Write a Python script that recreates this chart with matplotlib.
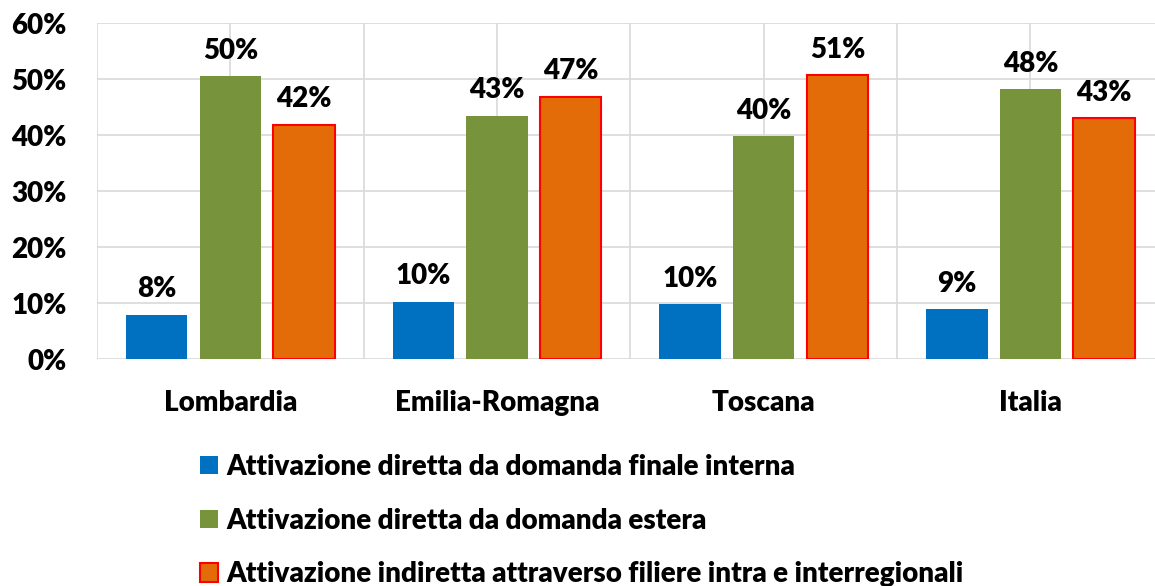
import matplotlib.pyplot as plt
import numpy as np

plt.rcParams["font.family"] = ["Lato", "DejaVu Sans"]
plt.rcParams["font.weight"] = "heavy"

regions = ["Lombardia", "Emilia-Romagna", "Toscana", "Italia"]
interna = [7.9, 10.2, 9.8, 8.9]
estera = [50.5, 43.4, 39.8, 48.2]
filiere = [41.8, 46.8, 50.7, 43.0]
series_names = [
    "Attivazione diretta da domanda finale interna",
    "Attivazione diretta da domanda estera",
    "Attivazione indiretta attraverso filiere intra e interregionali",
]

W, H = 1155, 586
fig = plt.figure(figsize=(W / 100, H / 100), dpi=100)
ax = fig.add_axes([97 / W, 1 - 359 / H, (W - 97) / W, 336 / H])

x = np.arange(len(regions))
width = 0.23
offset = 0.276
colors = ["#0070c0", "#77933c", "#e36c09"]
edges = ["#0070c0", "#77933c", "#ff0000"]
fs = 20

handles = []
for i, vals in enumerate([interna, estera, filiere]):
    bars = ax.bar(
        x + (i - 1) * offset,
        vals,
        width,
        color=colors[i],
        edgecolor=edges[i],
        linewidth=1.5 if i == 2 else 0,
        zorder=3,
        label=series_names[i],
    )
    handles.append(bars)
    for b, v in zip(bars, vals):
        ax.annotate(
            f"{round(v):.0f}%",
            (b.get_x() + b.get_width() / 2, v),
            xytext=(0, 9),
            textcoords="offset points",
            ha="center",
            va="bottom",
            fontsize=fs,
            fontweight="heavy",
        )

ax.set_ylim(0, 60)
ax.set_xlim(-0.5, -0.5 + (W - 97) / 266.7)
ax.set_yticks(np.arange(0, 61, 10))
ax.set_yticklabels([f"{v}%" for v in range(0, 61, 10)], fontsize=fs, fontweight="heavy")
ax.set_xticks(x)
ax.set_xticklabels(regions, fontsize=fs, fontweight="heavy")
ax.tick_params(length=0, pad=22)
ax.tick_params(axis="x", pad=22)

for y in range(0, 61, 10):
    ax.axhline(y, color="#d9d9d9", lw=1.2, zorder=1)
for xv in np.arange(-0.5, 4.0, 0.5):
    ax.axvline(xv, color="#d9d9d9", lw=1.2, zorder=1)
for s in ax.spines.values():
    s.set_visible(False)

fig.legend(
    handles=handles,
    loc="upper left",
    bbox_to_anchor=(186 / W, 1 - 440 / H),
    frameon=False,
    fontsize=fs,
    handlelength=0.65,
    handleheight=0.65,
    handletextpad=0.3,
    labelspacing=1.0,
    borderpad=0,
)

fig.savefig("out.png", dpi=100)
